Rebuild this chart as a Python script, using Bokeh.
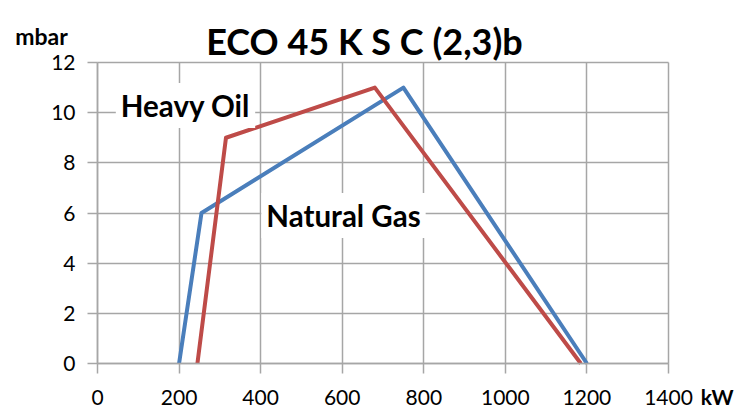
from bokeh.plotting import figure
from bokeh.models import Label, FixedTicker, Range1d, LinearAxis, Grid
from bokeh.embed import file_html
from bokeh.resources import INLINE

# Data
gas_kw = [200, 255, 750, 1200]
gas_mbar = [0, 6, 11, 0]
oil_kw = [245, 315, 680, 1185]
oil_mbar = [0, 9, 11, 0]
x_ticks = [0, 200, 400, 600, 800, 1000, 1200, 1400]
y_ticks = [0, 2, 4, 6, 8, 10, 12]
title_text = "ECO 45 K S C (2,3)b"

FONT = "Lato"
GRID = "#a6a6a6"
W, H = 736, 416
# plot-area placement in pixels
L, R, T, B = 97, 668, 62, 363
X0, X1 = x_ticks[0], x_ticks[-1]
Y0, Y1 = y_ticks[0], y_ticks[-1]
sx = (R - L) / (X1 - X0)
sy = (B - T) / (Y1 - Y0)


def dx(px):
    return X0 + (px - L) / sx


def dy(py):
    return Y0 + (B - py) / sy


p = figure(width=W, height=H, output_backend="svg", toolbar_location=None,
           x_range=Range1d(dx(0), dx(W)), y_range=Range1d(dy(H), dy(0)),
           x_axis_location=None, y_axis_location=None,
           min_border_left=0, min_border_right=0, min_border_top=0, min_border_bottom=0)
p.outline_line_color = None
p.background_fill_color = "white"
p.border_fill_color = "white"
# drop default grids
p.center = [r for r in p.center if not isinstance(r, Grid)]
p.renderers = [r for r in p.renderers if not isinstance(r, Grid)]

p.add_layout(Grid(dimension=0, ticker=FixedTicker(ticks=x_ticks), bounds=(X0, X1),
                  cross_bounds=(Y0, Y1), grid_line_color=GRID, grid_line_width=1.5))
p.add_layout(Grid(dimension=1, ticker=FixedTicker(ticks=y_ticks), bounds=(Y0, Y1),
                  cross_bounds=(X0, X1), grid_line_color=GRID, grid_line_width=1.5))

p.line(gas_kw, gas_mbar, line_color="#4a7ebb", line_width=4, line_join="round")
p.line(oil_kw, oil_mbar, line_color="#be4b48", line_width=4, line_join="round")

xaxis = LinearAxis(fixed_location=Y0, bounds=(X0, X1), ticker=FixedTicker(ticks=x_ticks))
yaxis = LinearAxis(fixed_location=X0, bounds=(Y0, Y1), ticker=FixedTicker(ticks=y_ticks))
for ax in (xaxis, yaxis):
    ax.axis_line_color = GRID
    ax.axis_line_width = 1.5
    ax.major_tick_line_color = GRID
    ax.major_tick_line_width = 1.5
    ax.major_tick_out = 10
    ax.major_tick_in = 0
    ax.minor_tick_line_color = None
    ax.major_label_text_font = FONT
    ax.major_label_text_font_size = "21px"
    ax.major_label_text_color = "#000000"
xaxis.major_label_standoff = 16
yaxis.major_label_standoff = 12
p.add_layout(xaxis, "below")
p.add_layout(yaxis, "left")

p.add_layout(Label(x=dx(364), y=dy(40), text=title_text, text_font=FONT, text_font_style="bold",
                   text_font_size="36px", text_align="center", text_baseline="alphabetic",
                   text_color="black"))
p.add_layout(Label(x=dx(41), y=dy(35), text="mbar", text_font=FONT, text_font_style="bold",
                   text_font_size="23px", text_align="center", text_baseline="alphabetic",
                   text_color="black"))
p.add_layout(Label(x=dx(733), y=dy(396), text="kW", text_font=FONT, text_font_style="bold",
                   text_font_size="21px", text_align="right", text_baseline="alphabetic",
                   text_color="black"))
p.add_layout(Label(x=dx(185), y=dy(105), text="Heavy Oil", text_font=FONT, text_font_style="bold",
                   text_font_size="29.5px", text_align="center", text_baseline="alphabetic",
                   text_color="black", background_fill_color="white", padding=5))
p.add_layout(Label(x=dx(343), y=dy(215), text="Natural Gas", text_font=FONT, text_font_style="bold",
                   text_font_size="29.5px", text_align="center", text_baseline="alphabetic",
                   text_color="black", background_fill_color="white", padding=5))

open("out.html", "w").write(file_html(p, INLINE))
